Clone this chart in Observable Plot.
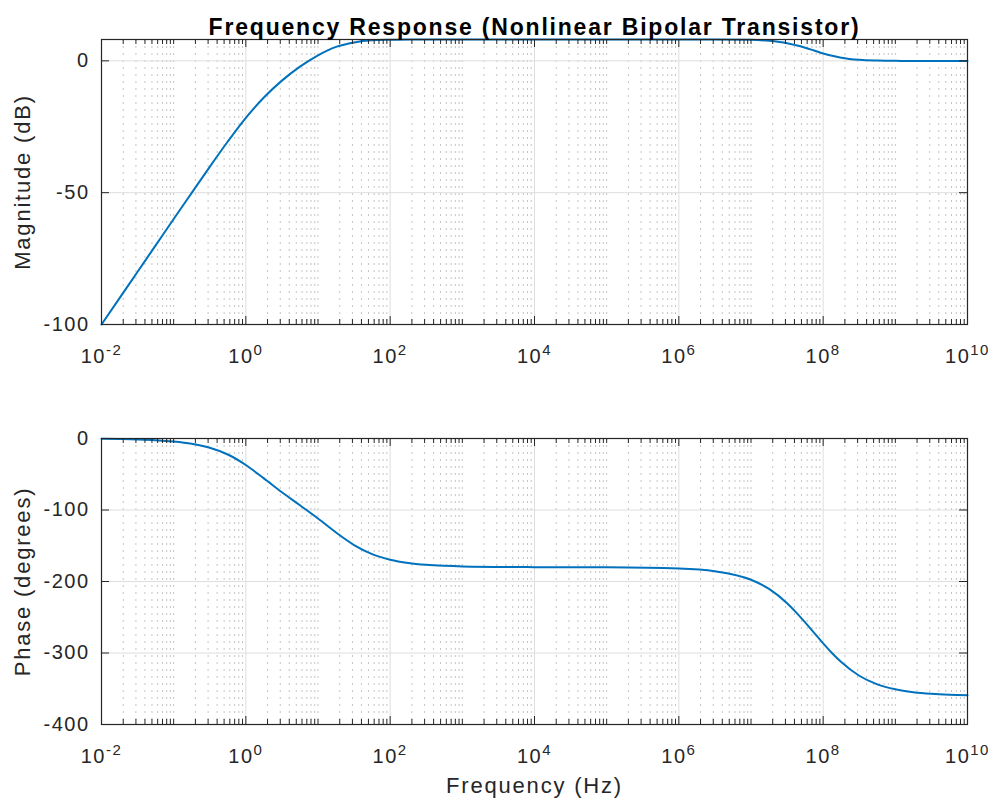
<!DOCTYPE html>
<html><head><meta charset="utf-8">
<script src="https://cdn.jsdelivr.net/npm/d3@7"></script>
<script src="https://cdn.jsdelivr.net/npm/@observablehq/plot@0.6"></script>
<style>
body{margin:0;background:#fff;}
#chart{width:994px;height:810px;position:relative;background:#fff;}
#chart svg{display:block;}
</style></head><body><div id="chart"></div>
<script>
// ---- data ----
const logFrequency = [-2,-1.75,-1.5,-1.25,-1,-0.75,-0.5,-0.25,0,0.25,0.5,0.75,1,1.25,1.5,1.75,2,2.25,2.5,2.75,3,4,5,6,6.5,7,7.25,7.5,7.625,7.75,7.875,8,8.125,8.25,8.5,8.75,9,9.25,9.5,9.75,10];
const magnitudeDb = [-100.0,-90.0,-80.0,-70.0,-60.0,-50.1,-40.2,-30.6,-21.6,-13.9,-7.5,-2.2,2.1,5.3,7.0,7.8,8.0,8.1,8.1,8.1,8.1,8.1,8.1,8.1,8.1,8.0,7.6,6.7,5.9,5.0,3.9,2.8,1.9,1.2,0.4,0.1,0.0,-0.1,-0.1,-0.1,-0.1];
const phaseDeg = [-0.4,-0.7,-1.3,-2.3,-4.2,-7.4,-13.0,-22.4,-37.1,-55.8,-75.2,-93.4,-111.9,-131.5,-149.0,-161.7,-169.5,-174.1,-176.7,-178.1,-178.9,-179.9,-180.2,-181.8,-185.6,-197.5,-210.3,-230.3,-243.1,-257.2,-271.9,-286.5,-300.3,-312.7,-331.8,-343.8,-350.8,-354.8,-357.1,-358.4,-359.1];
const majorExponents = [-2,0,2,4,6,8,10];
const magnitudeTicks = [-100,-50,0];
const phaseTicks = [-400,-300,-200,-100,0];
const titleText = "Frequency Response (Nonlinear Bipolar Transistor)";
const magLabel = "Magnitude (dB)";
const phaseLabel = "Phase (degrees)";
const xLabel = "Frequency (Hz)";

// ---- derived tables ----
const rows = logFrequency.map((e, i) => ({f: 10 ** e, mag: magnitudeDb[i], phase: phaseDeg[i]}));
const majors = majorExponents.map(e => 10 ** e);
const minors = [];
for (let e = -2; e < 10; e++) {
  for (let m = 2; m <= 9; m++) minors.push(m * 10 ** e);
  if (e % 2 !== 0) minors.push(10 ** e);
}

const W = 994, ML = 101, MR = 27;
const FW = W - ML - MR;
const INK = "#262626";
const FONT = "Liberation Sans, Arial, sans-serif";

function panel({height, marginTop, marginBottom, yDomain, yTicks, field, title, ylabel, xlabel}) {
  const FH = height - marginTop - marginBottom;
  const marks = [
    Plot.ruleX(minors, {x: d => d, stroke: "#c4c4c4", strokeDasharray: "2,5"}),
    Plot.ruleX(majors, {x: d => d, stroke: "#dedede"}),
    Plot.ruleY(yTicks, {y: d => d, stroke: "#dedede"}),
    Plot.line(rows, {x: "f", y: field, stroke: "#0072BD", strokeWidth: 2, curve: "monotone-x"}),
    // inward ticks
    Plot.ruleX(majors, {x: d => d, insetTop: FH - 8, stroke: INK}),
    Plot.ruleX(majors, {x: d => d, insetBottom: FH - 8, stroke: INK}),
    Plot.ruleX(minors, {x: d => d, insetTop: FH - 5, stroke: INK}),
    Plot.ruleX(minors, {x: d => d, insetBottom: FH - 5, stroke: INK}),
    Plot.ruleY(yTicks, {y: d => d, insetRight: FW - 8, stroke: INK}),
    Plot.ruleY(yTicks, {y: d => d, insetLeft: FW - 8, stroke: INK}),
    Plot.frame({stroke: INK, strokeWidth: 1.2}),
    Plot.axisY({ticks: yTicks, tickSize: 0, tickPadding: 12, tickFormat: d => String(d), label: null, fontSize: 20, fill: INK}),
    Plot.axisX({ticks: majors, tickSize: 0, tickPadding: 24, tickFormat: d => "10^" + Math.round(Math.log10(d)), label: null, fontSize: 20, fill: INK}),
    Plot.text([ylabel], {text: d => d, frameAnchor: "left", textAnchor: "middle", dx: -79, rotate: -90, fontSize: 22, fill: INK})
  ];
  if (title) marks.push(Plot.text([title], {text: d => d, frameAnchor: "top", textAnchor: "middle", dy: -21, fontSize: 23, fontWeight: "bold", fill: "#000"}));
  if (xlabel) marks.push(Plot.text([xlabel], {text: d => d, frameAnchor: "bottom", textAnchor: "middle", dy: 68, fontSize: 22, fill: INK}));
  const svg = Plot.plot({
    width: W, height, marginLeft: ML, marginRight: MR, marginTop, marginBottom,
    style: {fontFamily: FONT, background: "#fff", color: INK},
    x: {type: "log", domain: [1e-2, 1e10], axis: null},
    y: {domain: yDomain, axis: null},
    marks
  });
  const s = d3.select(svg);
  s.selectAll('g[aria-label="x-axis tick label"] text').each(function () {
    const m = this.textContent.match(/^10\^(.*)$/);
    if (!m) return;
    const t = d3.select(this);
    t.text("10");
    t.append("tspan").attr("dy", "-8").attr("font-size", "15px").text(m[1]);
  }).style("letter-spacing", "1.5px");
  s.selectAll('g[aria-label="y-axis tick label"] text').style("letter-spacing", "1.5px");
  s.selectAll('g[aria-label="text"] text').style("letter-spacing", "1.8px");
  return svg;
}

const chart = document.getElementById("chart");
chart.appendChild(panel({height: 370, marginTop: 39, marginBottom: 46, yDomain: [-100, d3.max(magnitudeDb)], yTicks: magnitudeTicks, field: "mag", title: titleText, ylabel: magLabel}));
chart.appendChild(panel({height: 440, marginTop: 68, marginBottom: 86, yDomain: [-400, 0], yTicks: phaseTicks, field: "phase", ylabel: phaseLabel, xlabel: xLabel}));
</script></body></html>
